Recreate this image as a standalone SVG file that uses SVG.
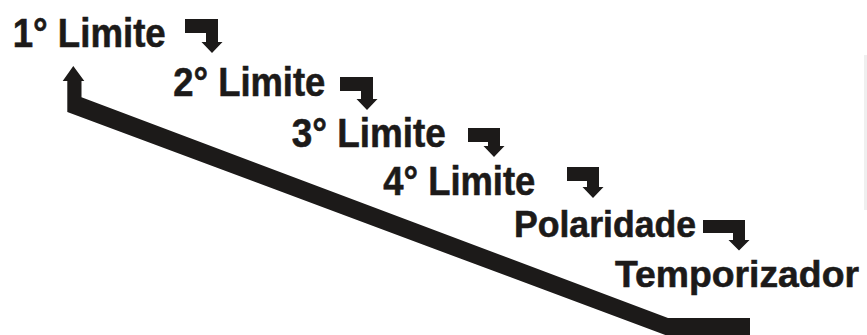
<svg xmlns="http://www.w3.org/2000/svg" width="867" height="335" viewBox="0 0 867 335">
<style>
.lbl{font-family:"Liberation Sans",Arial,sans-serif;font-weight:bold;fill:#1c1a19;stroke:#1c1a19;stroke-width:0.6px;}
.big{font-size:40px;}
.mid{font-size:37px;}
.tmp{font-size:37.5px;}
.ink{fill:#1c1a19;stroke:none;}
</style>
<rect width="867" height="335" fill="#ffffff"/>
<rect x="864" y="55" width="3" height="155" fill="#efefef"/>
<g id="node-limite1"><text class="lbl big" x="12.7" y="46.5" textLength="153" lengthAdjust="spacingAndGlyphs">1° Limite</text></g>
<g id="node-limite2"><text class="lbl big" x="173.3" y="96" textLength="152" lengthAdjust="spacingAndGlyphs">2° Limite</text></g>
<g id="node-limite3"><text class="lbl big" x="291.7" y="147.3" textLength="154" lengthAdjust="spacingAndGlyphs">3° Limite</text></g>
<g id="node-limite4"><text class="lbl big" x="383.3" y="195" textLength="152" lengthAdjust="spacingAndGlyphs">4° Limite</text></g>
<g id="node-polaridade"><text class="lbl mid" x="514" y="236.7" textLength="182" lengthAdjust="spacingAndGlyphs">Polaridade</text></g>
<g id="node-temporizador"><text class="lbl tmp" x="615" y="287.3" textLength="244" lengthAdjust="spacingAndGlyphs">Temporizador</text></g>
<g id="connectors">
<path class="ink" d="M185,19 H218 V42 H222.5 L212,53 L201.5,42 H206 V33 H185 Z"/>
<path class="ink" d="M340,77 H373 V99 H377.5 L367,110 L356.5,99 H361 V91 H340 Z"/>
<path class="ink" d="M468,128 H500 V146 H504.5 L494,157 L483.5,146 H488 V142 H468 Z"/>
<path class="ink" d="M567,167 H599 V187 H603.5 L593,198 L582.5,187 H587 V181 H567 Z"/>
<path class="ink" d="M703,220 H745 V240 H749.5 L739,250.5 L728.5,240 H733 V233 H703 Z"/>
<path class="ink" d="M73.3,66 L84.3,81 H81.5 V97.3 L668,318 H750 V336 H668 L67.3,112 V81 H62.7 Z"/>
</g>
</svg>
